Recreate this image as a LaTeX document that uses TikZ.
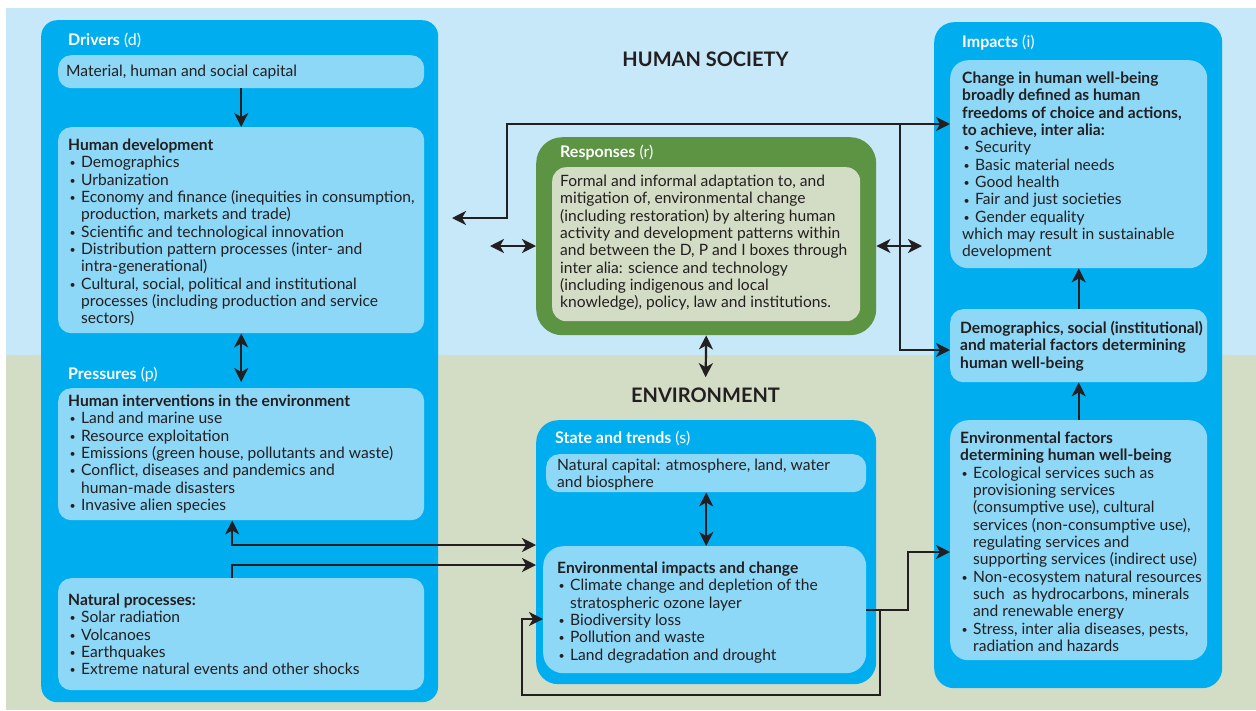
\documentclass[tikz,border=0pt]{standalone}
\usepackage{fontspec}
\setmainfont{Lato}
\usetikzlibrary{arrows.meta}
\definecolor{bgblue}{HTML}{C6E8F8}
\definecolor{bggreen}{HTML}{D3DCC5}
\definecolor{boxblue}{HTML}{00AEEF}
\definecolor{inblue}{HTML}{8DD7F7}
\definecolor{respgreen}{HTML}{5C9443}
\definecolor{ingreen}{HTML}{D3DCC4}
\definecolor{ink}{HTML}{231F20}
\newcommand\bulit{\makebox[13pt][l]{\hspace{1.5pt}\raisebox{0.8pt}{\fontsize{10.5}{10}\selectfont\textbullet}}}
\newcommand\contin{\hspace*{13pt}}
\tikzset{
  outerbox/.style={fill=boxblue, draw=none, rounded corners=16pt, anchor=north west, inner sep=0pt},
  inbox/.style={fill=inblue, draw=none, rounded corners=13pt, anchor=north west, inner sep=0pt},
  txt/.style={anchor=north west, inner sep=0pt, align=left, text=ink, font=\fontsize{15.6}{17.35}\selectfont},
  ttl/.style={anchor=base west, inner sep=0pt, text=white, font=\fontsize{16}{18}\selectfont},
  bigttl/.style={anchor=base, inner sep=0pt, text=ink, font=\fontsize{20}{24}\selectfont\bfseries},
  arr/.style={draw=ink, line width=2.2pt, -{Stealth[length=14pt,width=14pt,inset=4pt]}},
  arrr/.style={draw=ink, line width=2.2pt, {Stealth[length=14pt,width=14pt,inset=4pt]}-{Stealth[length=14pt,width=14pt,inset=4pt]}},
}
\begin{document}
\begin{tikzpicture}[x=1pt,y=-1pt]
\useasboundingbox (0,0) rectangle (1256,710);
\fill[white] (0,0) rectangle (1256,710);
\fill[bgblue] (6,8) rectangle (1256,355);
\fill[bggreen] (6,355) rectangle (1256,710);

% outer boxes
\node[outerbox, minimum width=397, minimum height=682] (drv) at (41,20) {};
\node[outerbox, rounded corners=20pt, minimum width=288, minimum height=666] (imp) at (934,22) {};
\node[outerbox, rounded corners=22pt, minimum width=340, minimum height=264] (st) at (536,420) {};
\node[outerbox, fill=respgreen, rounded corners=26pt, minimum width=340, minimum height=198] (resp) at (536,137) {};

% inner boxes
\node[inbox, minimum width=366, minimum height=33] (mat) at (58,55) {};
\node[inbox, minimum width=366, minimum height=206] (hd) at (58,127) {};
\node[inbox, minimum width=366, minimum height=132] (pi) at (58,388) {};
\node[inbox, minimum width=366, minimum height=112] (np) at (58,578) {};
\node[inbox, fill=ingreen, rounded corners=14pt, minimum width=308, minimum height=154] (respin) at (552,167) {};
\node[inbox, rounded corners=18pt, minimum width=257, minimum height=208] (chg) at (950,60) {};
\node[inbox, minimum width=257, minimum height=73] (demo) at (950,309) {};
\node[inbox, rounded corners=18pt, minimum width=257, minimum height=240] (envf) at (950,420) {};
\node[inbox, minimum width=320, minimum height=38] (natc) at (546,454) {};
\node[inbox, rounded corners=20pt, minimum width=323, minimum height=127] (envi) at (543,546) {};

% big titles
\node[bigttl] (hsoc) at (705.5,66) {HUMAN SOCIETY};
\node[bigttl] (envl) at (705.5,402) {ENVIRONMENT};

% connectors
\draw[arr] (mat.south) -- (hd.north);
\draw[arrr, shorten >=6pt] (hd.south) -- (pi.north);
\coordinate (rl) at (490,246);
\coordinate (rr) at (922,246);
\coordinate (tl) at (452,218);
\coordinate (j1) at (900,124);
\draw[arrr] (rl) -- (resp.west |- rl);
\draw[arrr] (tl) -| (507,124) -- (chg.west |- j1);
\draw[arr] (j1) |- (demo.west |- 0,350);
\draw[arrr] (resp.east |- rr) -- (rr);
\draw[arrr, shorten >=10pt] (resp.south) -- (envl.north);
\draw[arrr] (natc.south) -- (natc.south |- envi.north);
\draw[arrr] ([xshift=-9pt]pi.south) |- (st.west |- 0,545);
\draw[arr] ([xshift=-9pt]np.north) |- (st.west |- 0,565);
\draw[arr] (envi.east |- 0,610) -- (908,610) |- (envf.west |- 0,552);
\draw[arr] (880,610) |- (522,695) |- (envi.west |- 0,619);
\draw[arr] (demo.north) -- (chg.south);
\draw[arr] (envf.north) -- (demo.south);

% titles
\node[ttl] (tdrv) at (68,45.5) {\textbf{Drivers} (d)};
\node[ttl] (tpre) at (68,379.5) {\textbf{Pressures} (p)};
\node[ttl] (tresp) at (560,157.5) {\textbf{Responses} (r)};
\node[ttl] (timp) at (962,47.5) {\textbf{Impacts} (i)};
\node[ttl] (tst) at (555,443.5) {\textbf{State and trends} (s)};

% texts
\node[txt] (tmat) at (66,64) {\strut Material, human and social capital};
\node[txt] (thd) at (68,138) {\strut\textbf{Human development}\\
\bulit Demographics\\
\bulit Urbanization\\
\bulit Economy and finance (inequities in consumption,\\
\contin production, markets and trade)\\
\bulit Scientific and technological innovation\\
\bulit Distribution pattern processes (inter- and\\
\contin intra-generational)\\
\bulit Cultural, social, political and institutional\\
\contin processes (including production and service\\
\contin sectors)};
\node[txt] (tpi) at (68,394) {\strut\textbf{Human interventions in the environment}\\
\bulit Land and marine use\\
\bulit Resource exploitation\\
\bulit Emissions (green house, pollutants and waste)\\
\bulit Conflict, diseases and pandemics and\\
\contin human-made disasters\\
\bulit Invasive alien species};
\node[txt] (tnp) at (68,593) {\strut\textbf{Natural processes:}\\
\bulit Solar radiation\\
\bulit Volcanoes\\
\bulit Earthquakes\\
\bulit Extreme natural events and other shocks};
\node[txt] (trespt) at (560,174) {\strut Formal and informal adaptation to, and\\
mitigation of, environmental change\\
(including restoration) by altering human\\
activity and development patterns within\\
and between the D, P and I boxes through\\
inter alia: science and technology\\
(including indigenous and local\\
knowledge), policy, law and institutions.};
\node[txt] (tchg) at (962,71) {\strut\textbf{Change in human well-being}\\
\textbf{broadly defined as human}\\
\textbf{freedoms of choice and actions,}\\
\textbf{to achieve, inter alia:}\\
\bulit Security\\
\bulit Basic material needs\\
\bulit Good health\\
\bulit Fair and just societies\\
\bulit Gender equality\\
which may result in sustainable\\
development};
\node[txt] (tdemo) at (960,321) {\strut\textbf{Demographics, social (institutional)}\\
\textbf{and material factors determining}\\
\textbf{human well-being}};
\node[txt] (tenvf) at (960,431) {\strut\textbf{Environmental factors}\\
\textbf{determining human well-being}\\
\bulit Ecological services such as\\
\contin provisioning services\\
\contin (consumptive use), cultural\\
\contin services (non-consumptive use),\\
\contin regulating services and\\
\contin supporting services (indirect use)\\
\bulit Non-ecosystem natural resources\\
\contin such\ \ as hydrocarbons, minerals\\
\contin and renewable energy\\
\bulit Stress, inter alia diseases, pests,\\
\contin radiation and hazards};
\node[txt] (tnatc) at (557,458) {\strut Natural capital: atmosphere, land, water\\
and biosphere};
\node[txt] (tenvi) at (557,561) {\strut\textbf{Environmental impacts and change}\\
\bulit Climate change and depletion of the\\
\contin stratospheric ozone layer\\
\bulit Biodiversity loss\\
\bulit Pollution and waste\\
\bulit Land degradation and drought};
\end{tikzpicture}
\end{document}
